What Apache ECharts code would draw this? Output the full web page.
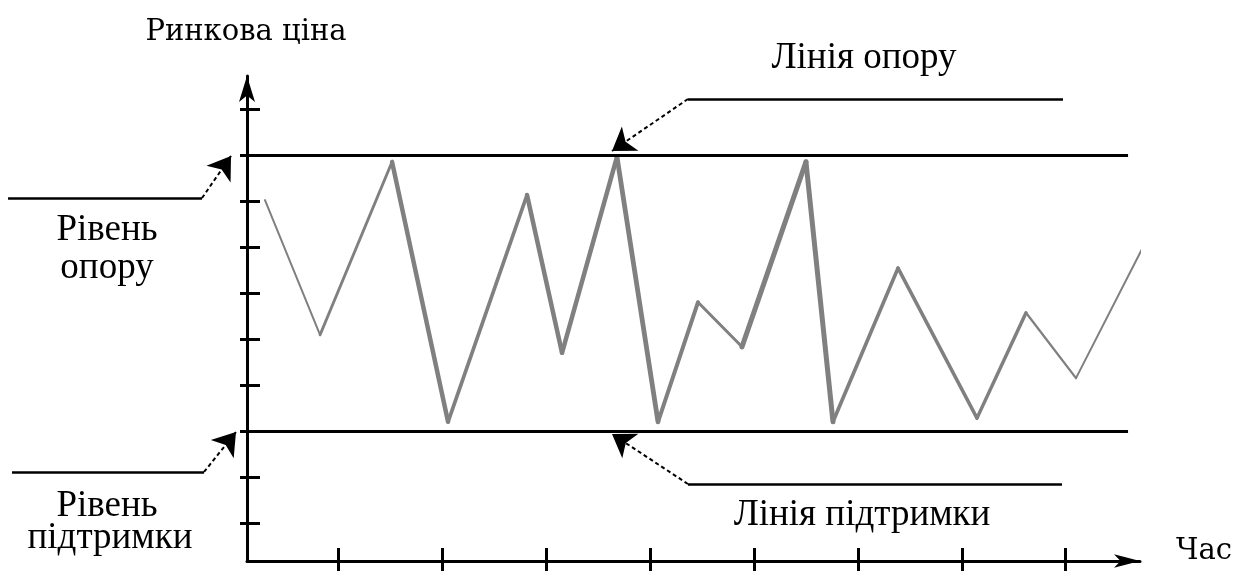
<!DOCTYPE html>
<html><head><meta charset="utf-8">
<script src="https://cdn.jsdelivr.net/npm/echarts@6/dist/echarts.min.js"></script>
<style>html,body{margin:0;padding:0;background:#fff}#c{width:1243px;height:571px}</style>
</head><body><div id="c"></div>
<script>
// ---- data (time in tick units, price in tick units) ----
const priceTime  = [0.293, 0.823, 1.516, 2.055, 2.815, 3.152, 3.681, 4.076, 4.461, 4.884, 5.500, 5.760, 6.386, 7.146, 7.618, 8.099, 8.744];
const priceValue = [8.02, 5.09, 8.85, 3.20, 8.13, 4.70, 8.96, 3.20, 5.80, 4.83, 8.85, 3.20, 6.54, 3.28, 5.57, 4.15, 7.00];
const resistanceLevel = 9;
const supportLevel = 3;
const levelSpan = [0.053, 8.60];
const xTicks = [1, 2, 3, 4, 5, 6, 7, 8];
const yTicks = [1, 2, 3, 4, 5, 6, 7, 8, 9, 10];
const xRange = [0.12, 8.715];
const yRange = [0.174, 10.717];
// pointers: [tail, elbow, tip]
const ptrResistanceLine  = [[7.974, 10.217], [4.364, 10.217], [3.633, 9.087]];
const ptrSupportLine     = [[7.964, 1.848], [4.364, 1.848], [3.633, 2.935]];
const ptrResistanceLevel = [[-2.180, 8.065], [-0.313, 8.065], [-0.034, 8.978]];
const ptrSupportLevel    = [[-2.142, 2.109], [-0.294, 2.109], [0.014, 2.978]];
const axisTitles = ['Ринкова ціна', 'Час'];
const annotationTexts = ['Лінія опору', 'Рівень', 'опору', 'Рівень', 'підтримки', 'Лінія підтримки'];

// ---- styles ----
const segmentWidths = [2, 2.8, 4.5, 3.7, 4.5, 4.5, 4.8, 4, 3, 5, 5, 3.7, 3.5, 3.5, 2.3, 2];

// ---- build ----
const chart = echarts.init(document.getElementById('c'), null, {renderer: 'canvas'});
const black = '#000';
const tickStyle = {color: black, width: 3};
const pointers = [ptrResistanceLine, ptrSupportLine, ptrResistanceLevel, ptrSupportLevel];

const series = [];
for (let i = 0; i < priceTime.length - 1; i++) {
  series.push({type: 'line', data: [[priceTime[i], priceValue[i]], [priceTime[i + 1], priceValue[i + 1]]],
    symbol: 'none', clip: false, silent: true, z: 3,
    lineStyle: {color: '#808080', width: segmentWidths[i], cap: 'round'}});
}
series.push(
  {type: 'lines', coordinateSystem: 'cartesian2d', clip: false, silent: true, z: 4,
   lineStyle: {color: black, width: 3, opacity: 1},
   data: [{coords: [[levelSpan[0], resistanceLevel], [levelSpan[1], resistanceLevel]]},
          {coords: [[levelSpan[0], supportLevel], [levelSpan[1], supportLevel]]}]},
  {type: 'lines', coordinateSystem: 'cartesian2d', clip: false, silent: true, z: 4,
   lineStyle: {color: black, width: 2.5, opacity: 1},
   data: pointers.map(p => ({coords: [p[0], p[1]]}))},
  {type: 'lines', coordinateSystem: 'cartesian2d', clip: false, silent: true, z: 5,
   symbol: ['none', 'arrow'], symbolSize: [12, 22],
   lineStyle: {color: black, width: 2, type: [4, 3], opacity: 1},
   data: pointers.map(p => ({coords: [p[1], p[2]]}))}
);

const serif = '"Liberation Serif", "Times New Roman", serif';
const textItems = [
  {text: axisTitles[0], x: 246, y: 32, size: 29, font: '"DejaVu Serif", serif'},
  {text: axisTitles[1], x: 1204, y: 551, size: 29, font: '"DejaVu Serif", serif'},
  {text: annotationTexts[0], x: 864, y: 58, size: 37, font: serif},
  {text: annotationTexts[1], x: 107, y: 230, size: 37, font: serif},
  {text: annotationTexts[2], x: 107, y: 268, size: 37, font: serif},
  {text: annotationTexts[3], x: 107, y: 506, size: 37, font: serif},
  {text: annotationTexts[4], x: 110, y: 538, size: 37, font: serif},
  {text: annotationTexts[5], x: 862, y: 515, size: 37, font: serif}
];

const baseAxis = {type: 'value', splitLine: {show: false}, axisLabel: {show: false}, axisPointer: {show: false}};
chart.setOption({
  animation: false,
  backgroundColor: '#fff',
  grid: {left: 247, right: 103, top: 76, bottom: 10, containLabel: false, outerBoundsMode: 'none'},
  xAxis: [
    Object.assign({}, baseAxis, {min: xRange[0], max: xRange[1], position: 'bottom',
      axisLine: {show: true, onZero: false, lineStyle: {color: black, width: 3}, symbol: ['none', 'arrow'], symbolSize: [10, 26]},
      axisTick: {show: true, inside: true, length: 13, lineStyle: tickStyle, customValues: xTicks}}),
    Object.assign({}, baseAxis, {min: xRange[0], max: xRange[1], position: 'bottom',
      axisLine: {show: false, onZero: false},
      axisTick: {show: true, inside: false, length: 10, lineStyle: tickStyle, customValues: xTicks}})
  ],
  yAxis: [
    Object.assign({}, baseAxis, {min: yRange[0], max: yRange[1], position: 'left',
      axisLine: {show: true, onZero: false, lineStyle: {color: black, width: 3}, symbol: ['none', 'arrow'], symbolSize: [12, 26]},
      axisTick: {show: true, inside: true, length: 13, lineStyle: tickStyle, customValues: yTicks}}),
    Object.assign({}, baseAxis, {min: yRange[0], max: yRange[1], position: 'left',
      axisLine: {show: false, onZero: false},
      axisTick: {show: true, inside: false, length: 7, lineStyle: tickStyle, customValues: yTicks}})
  ],
  series: series,
  graphic: textItems.map(t => ({type: 'text', x: t.x, y: t.y, silent: true, z: 10,
    style: {text: t.text, fill: black, font: t.size + 'px ' + t.font, textAlign: 'center', textVerticalAlign: 'middle', verticalAlign: 'middle'}}))
});
</script></body></html>
